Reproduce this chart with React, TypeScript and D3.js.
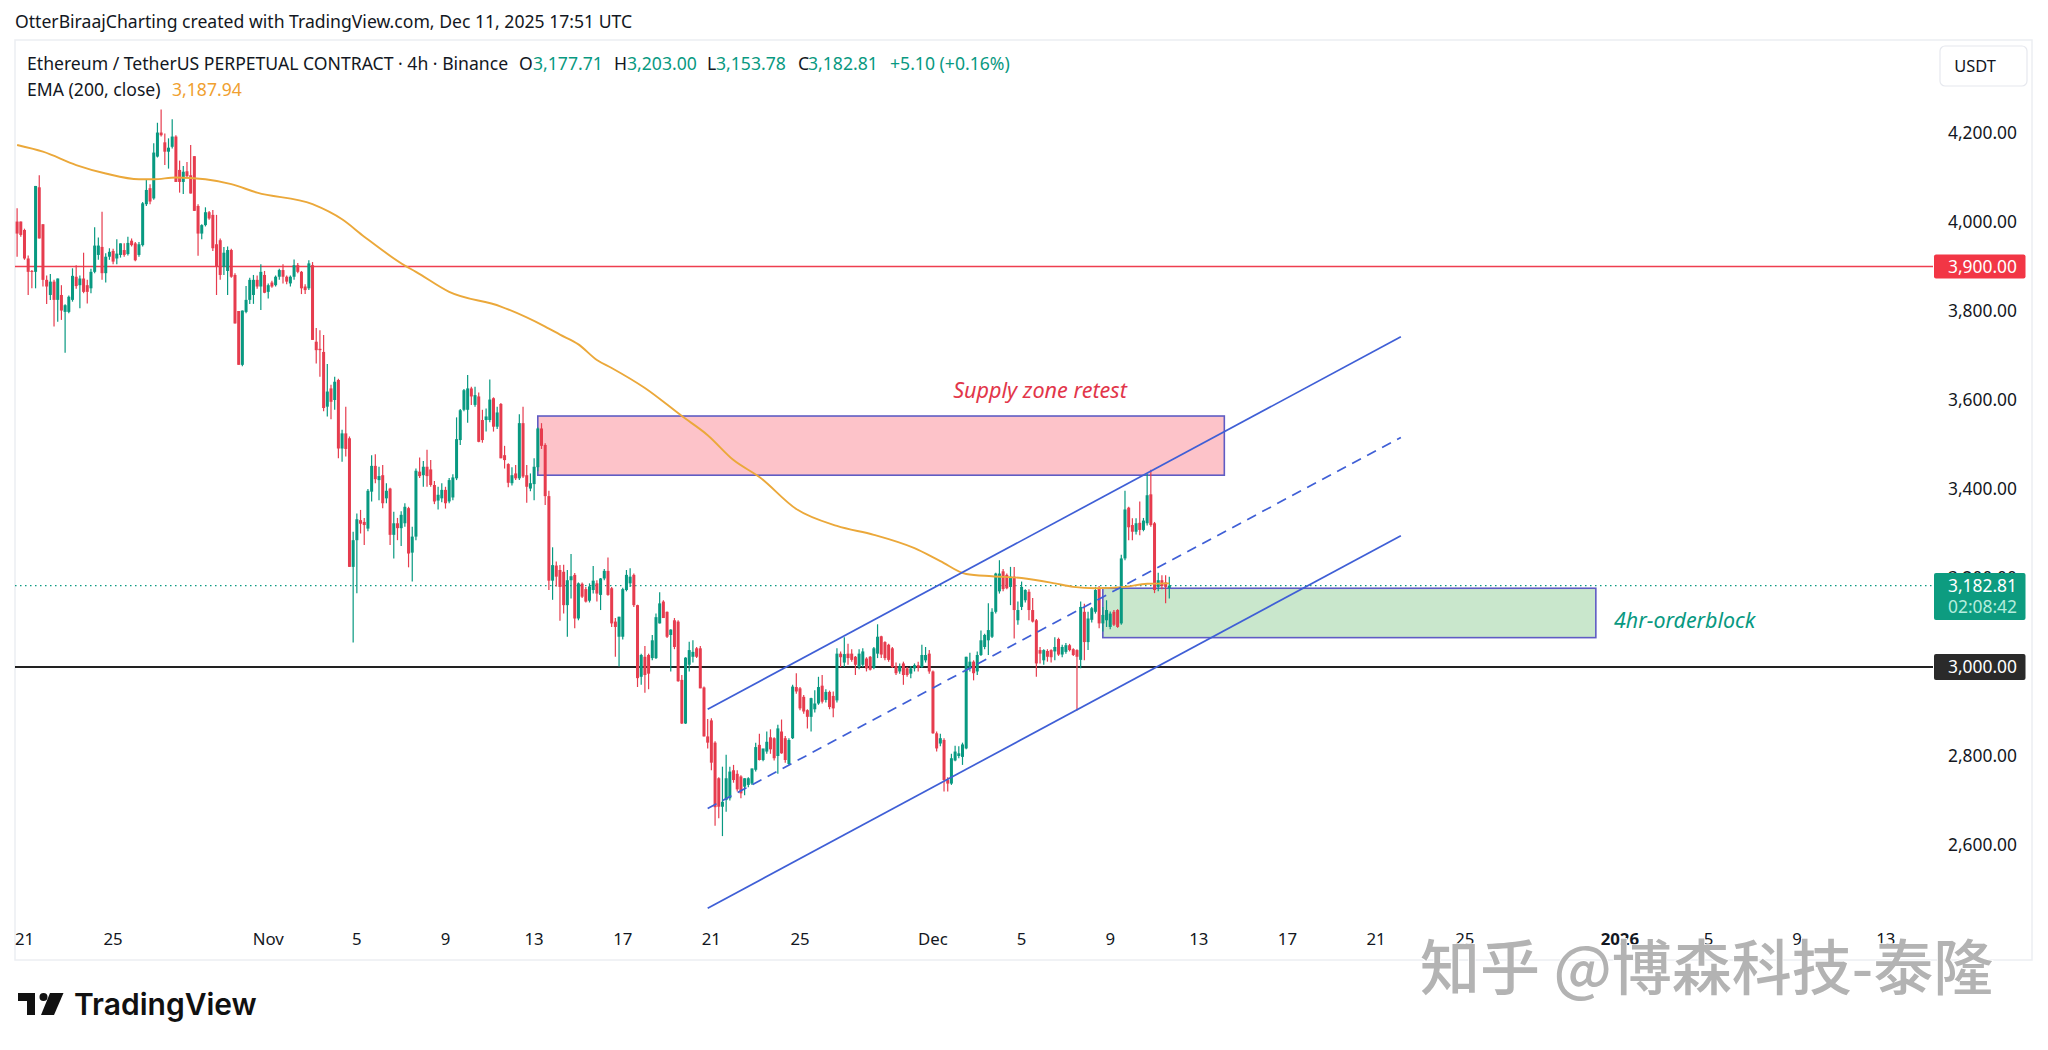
import { scaleLinear, line as d3Line, curveMonotoneX } from "d3"

// 4h bars, first bar is Oct 20 16:00 UTC, last is Dec 11 16:00 UTC
const opens = [
  4001,4001,3982,3918,3890,3888,4078,3995,3870,3836,
  3866,3825,3836,3798,3798,3825,3877,3858,3873,3858,
  3851,3888,3926,3944,3885,3922,3935,3918,3926,3937,
  3928,3958,3952,3926,3948,4040,4076,4053,4147,4201,
  4179,4158,4169,4192,4117,4090,4114,4105,4148,4036,
  3974,3993,4022,4016,3950,3959,3899,3890,3937,3881,
  3800,3679,3798,3825,3836,3870,3855,3881,3843,3864,
  3858,3877,3892,3877,3862,3877,3903,3888,3855,3851,
  3903,3731,3715,3708,3585,3626,3600,3645,3491,3525,
  3514,3225,3285,3330,3326,3311,3394,3452,3420,3431,
  3379,3401,3297,3323,3312,3323,3357,3257,3293,3439,
  3431,3450,3444,3409,3374,3379,3398,3372,3381,3424,
  3510,3578,3578,3626,3589,3608,3555,3555,3555,3604,
  3540,3591,3476,3456,3413,3435,3424,3548,3431,3401,
  3411,3449,3536,3499,3384,3194,3228,3218,3214,3139,
  3195,3207,3109,3187,3175,3149,3173,3188,3162,3199,
  3216,3177,3102,3068,3068,3173,3188,3207,3139,2978,
  3023,3027,3020,3020,3098,3147,3124,3072,3105,3102,
  2971,2873,3005,3023,3042,3042,2954,2844,2880,2830,
  2750,2686,2701,2705,2768,2760,2754,2731,2735,2738,
  2769,2825,2791,2810,2842,2840,2800,2855,2840,2782,
  2840,2955,2952,2933,2903,2888,2905,2918,2958,2926,
  2944,2935,2925,3030,3010,3030,3030,3023,3000,3005,
  3019,3023,2998,3030,3069,3056,3050,3042,3002,2990,
  3008,2997,2985,2997,3004,3000,3015,3030,2990,2851,
  2828,2836,2746,2738,2790,2800,2798,2817,2997,3012,
  2990,3027,3045,3060,3068,3124,3170,3215,3207,3180,
  3203,3105,3135,3150,3169,3128,3105,3038,3015,3036,
  3038,3035,3063,3028,3034,3049,3040,3038,3016,3124,
  3056,3106,3124,3177,3098,3105,3090,3124,3128,3098,
  3244,3358,3319,3304,3324,3308,3323,3388,3323,3180,
  3195,3190,3177.71,
]
const highs = [
  4031,4001,3985,3925,3892,4081,4105,3995,3880,3883,
  3870,3873,3858,3815,3835,3896,3903,3880,3931,3870,
  3895,3988,3965,4023,3930,3941,3940,3961,3952,3952,
  3967,3963,3955,3955,4045,4096,4085,4177,4223,4253,
  4199,4188,4231,4195,4138,4126,4135,4173,4148,4040,
  3995,4033,4025,4027,4016,3963,3944,3945,3940,3885,
  3800,3801,3856,3875,3881,3880,3905,3890,3862,3868,
  3880,3895,3905,3880,3880,3916,3908,3890,3860,3914,
  3910,3762,3757,3746,3681,3634,3652,3648,3533,3585,
  3518,3304,3345,3353,3335,3400,3476,3478,3450,3454,
  3413,3403,3349,3335,3350,3368,3360,3315,3446,3471,
  3463,3488,3465,3418,3405,3413,3405,3425,3433,3561,
  3580,3625,3656,3630,3630,3617,3578,3581,3646,3606,
  3585,3593,3497,3458,3449,3454,3568,3585,3454,3435,
  3469,3538,3548,3503,3396,3269,3237,3229,3230,3218,
  3254,3211,3190,3190,3180,3188,3227,3195,3200,3220,
  3246,3180,3110,3113,3178,3218,3222,3210,3140,3030,
  3047,3030,3072,3120,3168,3150,3125,3085,3110,3105,
  2982,3022,3057,3060,3045,3047,2956,2883,2885,2833,
  2752,2776,2803,2776,2780,2768,2757,2750,2752,2772,
  2830,2850,2815,2855,2860,2842,2870,2882,2845,2840,
  2960,2986,2955,2937,2905,2931,2948,2978,2982,2950,
  2947,2945,3042,3035,3067,3052,3040,3025,3040,3042,
  3022,3025,3045,3096,3070,3058,3052,3045,3010,3008,
  3012,3000,3002,3008,3012,3050,3045,3038,2992,2855,
  2850,2840,2752,2805,2823,2822,2830,3023,3032,3015,
  3035,3082,3075,3143,3132,3212,3240,3220,3210,3225,
  3225,3147,3192,3175,3175,3155,3108,3045,3040,3040,
  3040,3067,3066,3050,3054,3052,3042,3040,3147,3142,
  3124,3135,3180,3182,3135,3150,3125,3128,3130,3252,
  3396,3360,3334,3334,3372,3335,3434,3443,3326,3212,
  3206,3206,3203,
]
const lows = [
  3922,3967,3915,3836,3851,3851,3963,3855,3816,3825,
  3765,3776,3780,3706,3795,3821,3850,3806,3840,3817,
  3840,3885,3915,3870,3864,3915,3905,3905,3920,3922,
  3925,3945,3912,3922,3945,4036,4040,4050,4145,4192,
  4128,4120,4165,4090,4066,4063,4100,4064,4025,3924,
  3961,3990,4005,3935,3836,3870,3881,3836,3875,3772,
  3679,3676,3795,3816,3816,3850,3802,3840,3828,3852,
  3855,3870,3862,3860,3855,3870,3885,3838,3838,3847,
  3735,3682,3652,3575,3563,3557,3578,3469,3461,3473,
  3225,3055,3166,3300,3274,3305,3372,3413,3375,3357,
  3368,3274,3244,3285,3272,3315,3224,3192,3285,3425,
  3405,3405,3405,3366,3354,3370,3356,3368,3375,3420,
  3499,3575,3549,3589,3585,3505,3504,3529,3550,3529,
  3535,3469,3446,3404,3408,3420,3420,3425,3369,3395,
  3375,3440,3490,3364,3173,3151,3181,3104,3120,3068,
  3154,3087,3105,3155,3145,3145,3165,3147,3128,3195,
  3160,3090,3023,3001,3062,3170,3180,3135,2955,2960,
  2942,2950,3015,3018,3098,3110,3065,2990,3040,2967,
  2872,2872,2990,3010,3020,2952,2844,2817,2768,2643,
  2660,2620,2675,2700,2740,2720,2705,2712,2730,2735,
  2765,2790,2788,2805,2805,2790,2760,2805,2785,2780,
  2838,2940,2903,2895,2862,2855,2898,2915,2918,2920,
  2905,2887,2920,3000,3000,3005,3012,2982,2995,3000,
  2990,2992,2995,3020,3020,3015,3012,2998,2982,2985,
  2960,2978,2975,2990,2990,2998,3010,2985,2850,2810,
  2822,2720,2720,2735,2788,2795,2780,2815,2990,2970,
  2982,3025,3040,3027,3065,3120,3165,3170,3175,3139,
  3064,3095,3128,3145,3105,3100,2978,3008,3005,3012,
  3010,3015,3025,3022,3030,3035,3025,2902,2997,3015,
  3038,3100,3120,3087,3080,3090,3085,3092,3088,3095,
  3240,3285,3285,3298,3296,3305,3318,3315,3166,3170,
  3175,3143,3153.78,
]
const closes = [
  3974,3971,3918,3888,3888,4081,3963,3870,3855,3866,
  3825,3873,3801,3813,3832,3879,3856,3873,3843,3843,
  3888,3947,3947,3885,3922,3933,3911,3929,3952,3926,
  3953,3948,3914,3950,4042,4072,4046,4156,4201,4195,
  4158,4167,4192,4090,4090,4113,4103,4064,4025,3974,
  3993,4022,4008,3941,3899,3881,3931,3937,3877,3772,
  3679,3801,3825,3870,3870,3855,3888,3841,3858,3855,
  3877,3892,3877,3866,3877,3903,3888,3851,3847,3907,
  3735,3712,3712,3582,3619,3596,3641,3491,3525,3490,
  3225,3285,3332,3322,3319,3396,3452,3422,3429,3368,
  3396,3297,3323,3312,3342,3360,3255,3293,3441,3429,
  3450,3429,3409,3372,3387,3398,3368,3420,3426,3512,
  3577,3622,3626,3608,3611,3506,3510,3563,3601,3540,
  3572,3469,3465,3414,3431,3424,3548,3428,3405,3413,
  3450,3536,3497,3384,3194,3229,3203,3180,3139,3195,
  3204,3109,3188,3158,3147,3181,3194,3165,3199,3216,
  3162,3098,3090,3113,3175,3207,3203,3139,2975,3027,
  2982,2985,3060,3112,3143,3110,3068,3084,3045,2968,
  2873,3021,3038,3034,3023,2952,2844,2830,2785,2685,
  2686,2697,2750,2765,2746,2725,2716,2750,2750,2772,
  2820,2791,2817,2832,2815,2795,2862,2806,2791,2836,
  2956,2945,2907,2900,2888,2930,2918,2955,2922,2944,
  2910,2907,3030,3022,3029,3020,3016,3005,3030,3035,
  2997,2994,3042,3068,3028,3020,3016,3000,2986,3002,
  2982,2982,2997,3004,2998,3027,3027,2990,2851,2817,
  2840,2746,2738,2795,2810,2806,2826,3023,3012,2986,
  3027,3060,3072,3083,3124,3210,3210,3175,3177,3203,
  3128,3128,3180,3173,3128,3102,3008,3030,3038,3023,
  3022,3045,3028,3045,3049,3038,3027,3023,3135,3056,
  3109,3132,3173,3098,3117,3128,3120,3095,3090,3244,
  3354,3314,3304,3323,3308,3329,3386,3319,3173,3195,
  3182,3180,3182.81,
]

// EMA read at these bars
const emaBars = [0,7,16,24,33,37,43,51,58,65,80,88,94,105,108,117,131,143,147,152,157,161,170,180,187,194,201,211,222,232,243,250,257,264,272,281,286,292,300,306,312]
const emaValues = [4173,4158,4128,4109,4096,4096,4100,4096,4085,4066,4040,4006,3967,3902,3888,3843,3810,3765,3747,3725,3690,3672,3627,3564,3521,3465,3427,3355,3317,3297,3267,3238,3209,3204,3200,3188,3180,3177,3180,3187,3187.94]

const priceTicks = [2600, 2800, 3000, 3200, 3400, 3600, 3800, 4000, 4200]
const timeTickBars = [2, 26, 68, 92, 116, 140, 164, 188, 212, 248, 272, 296, 320, 344, 368, 392, 434, 458, 482, 506]
const timeTickLabels = ["21", "25", "Nov", "5", "9", "13", "17", "21", "25", "Dec", "5", "9", "13", "17", "21", "25", "2026", "5", "9", "13"]

// channel anchors: [bar, price] start and end
const channelStartBar = 187
const channelEndBar = 374.7
const channelUpper = [2905, 3742]
const channelMiddle = [2682, 3516]
const channelLower = [2458, 3295]

const supplyZone = { bar0: 141, bar1: 326.9, top: 3564, bottom: 3431 }
const orderBlock = { bar0: 294, bar1: 427.5, top: 3177, bottom: 3066 }

const lastClose = 3182.81
const redLevel = 3900
const blackLevel = 3000

const GREEN = "#089981"
const RED = "#e63c4e"
const BLUE = "#3f5fd6"
const ZONE_BORDER = "#5f5cc4"
const INK = "#131722"
const FONT = "'Noto Sans', sans-serif"

const fmt = (v: number) => v.toLocaleString("en-US", { minimumFractionDigits: 2, maximumFractionDigits: 2 })

export default function App() {
  const width = 2048
  const height = 1050
  const frame = { left: 15, top: 40, right: 2032, bottom: 960 }
  const plotRight = 1933

  const x = scaleLinear().domain([0, 312]).range([17.1, 1169.3])
  const y = scaleLinear().domain([3000, 4200]).range([667, 133])

  const emaPoints = emaBars.map((bar, i) => [bar, emaValues[i]] as [number, number])
  const emaPath = d3Line<[number, number]>()
    .x((d) => x(d[0]))
    .y((d) => y(d[1]))
    .curve(curveMonotoneX)(emaPoints) ?? ""

  const channels = [
    { key: "upper", values: channelUpper, dash: undefined },
    { key: "middle", values: channelMiddle, dash: "10 7" },
    { key: "lower", values: channelLower, dash: undefined },
  ]

  const zones = [
    { key: "supply", z: supplyZone, fill: "#fdc3c9" },
    { key: "ob", z: orderBlock, fill: "#c9e7cc" },
  ]

  return (
    <svg
      width={width}
      height={height}
      viewBox={`0 0 ${width} ${height}`}
      style={{ position: "absolute", left: 0, top: 0, background: "#fff", fontFamily: FONT }}
    >
      <text x={15} y={28} fontSize={17.6} fill={INK}>
        OtterBiraajCharting created with TradingView.com, Dec 11, 2025 17:51 UTC
      </text>

      <rect x={frame.left} y={frame.top} width={frame.right - frame.left} height={frame.bottom - frame.top} fill="#fff" stroke="#eceef2" strokeWidth={1.5} />

      {/* legend */}
      <g fontSize={17.6}>
        <text x={27} y={70} fill={INK}>Ethereum / TetherUS PERPETUAL CONTRACT · 4h · Binance</text>
        <text x={519} y={70} fill={INK}>O</text>
        <text x={533} y={70} fill={GREEN}>3,177.71</text>
        <text x={614} y={70} fill={INK}>H</text>
        <text x={627} y={70} fill={GREEN}>3,203.00</text>
        <text x={707} y={70} fill={INK}>L</text>
        <text x={716} y={70} fill={GREEN}>3,153.78</text>
        <text x={798} y={70} fill={INK}>C</text>
        <text x={808} y={70} fill={GREEN}>3,182.81</text>
        <text x={890} y={70} fill={GREEN}>+5.10 (+0.16%)</text>
        <text x={27} y={96} fill={INK}>EMA (200, close)</text>
        <text x={172} y={96} fill="#f0a030">3,187.94</text>
      </g>

      {/* zones sit under the candles */}
      {zones.map(({ key, z, fill }) => (
        <rect
          key={key}
          x={x(z.bar0)}
          y={y(z.top)}
          width={x(z.bar1) - x(z.bar0)}
          height={y(z.bottom) - y(z.top)}
          fill={fill}
          stroke={ZONE_BORDER}
          strokeWidth={1.6}
        />
      ))}

      <line x1={frame.left} x2={plotRight} y1={y(redLevel)} y2={y(redLevel)} stroke="#ee3f4f" strokeWidth={1.6} />
      <line x1={frame.left} x2={plotRight} y1={y(blackLevel)} y2={y(blackLevel)} stroke="#222" strokeWidth={1.8} />
      <line x1={frame.left} x2={plotRight} y1={y(lastClose)} y2={y(lastClose)} stroke={GREEN} strokeWidth={1.3} strokeDasharray="1.5 3.5" />

      {/* candles */}
      {closes.map((close, i) => {
        const open = opens[i]
        const color = close >= open ? GREEN : RED
        const bodyTop = y(Math.max(open, close))
        const bodyBottom = y(Math.min(open, close))
        return (
          <g key={i}>
            <line x1={x(i)} x2={x(i)} y1={y(highs[i])} y2={y(lows[i])} stroke={color} strokeWidth={1.2} />
            <rect x={x(i) - 1.5} y={bodyTop} width={3} height={Math.max(1, bodyBottom - bodyTop)} fill={color} />
          </g>
        )
      })}

      <path d={emaPath} fill="none" stroke="#eba83a" strokeWidth={1.9} />

      {channels.map((c) => (
        <line
          key={c.key}
          x1={x(channelStartBar)}
          x2={x(channelEndBar)}
          y1={y(c.values[0])}
          y2={y(c.values[1])}
          stroke={BLUE}
          strokeWidth={1.7}
          strokeDasharray={c.dash}
        />
      ))}

      <text x={1040} y={398} textAnchor="middle" fontSize={21.6} fontStyle="italic" fill="#e2364a">Supply zone retest</text>
      <text x={1614} y={628} fontSize={21.4} fontStyle="italic" fill={GREEN}>4hr-orderblock</text>

      {/* price axis */}
      <g fontSize={17.4} fill={INK} textAnchor="end">
        {priceTicks.map((tick) => (
          <text key={tick} x={2017} y={y(tick)} dy="0.35em">{fmt(tick)}</text>
        ))}
      </g>

      {/* time axis */}
      <g fontSize={16.8} fill={INK} textAnchor="middle">
        {timeTickBars.map((bar, i) => (
          <text key={bar} x={x(bar)} y={945} fontWeight={timeTickLabels[i] === "2026" ? 700 : 400}>{timeTickLabels[i]}</text>
        ))}
      </g>

      {/* price badges */}
      <rect x={1934} y={y(redLevel) - 12} width={91.5} height={24} rx={2} fill="#f23645" />
      <text x={2017} y={y(redLevel)} dy="0.35em" textAnchor="end" fontSize={17.4} fill="#fff">{fmt(redLevel)}</text>
      <rect x={1934} y={573} width={91.5} height={47} rx={2} fill="#0d9c80" />
      <text x={2017} y={586} dy="0.35em" textAnchor="end" fontSize={17.4} fill="#fff">{fmt(lastClose)}</text>
      <text x={2017} y={607} dy="0.35em" textAnchor="end" fontSize={17.4} fill="#b4ecdd">02:08:42</text>
      <rect x={1934} y={654} width={91.5} height={26} rx={2} fill="#2a2a2a" />
      <text x={2017} y={y(blackLevel)} dy="0.35em" textAnchor="end" fontSize={17.4} fill="#fff">{fmt(blackLevel)}</text>

      {/* currency box */}
      <rect x={1940} y={46} width={87} height={40} rx={5} fill="#fff" stroke="#e6e8ee" strokeWidth={1.2} />
      <text x={1975} y={66} dy="0.35em" textAnchor="middle" fontSize={16.4} fill={INK}>USDT</text>

      {/* TradingView logo */}
      <g fill="#111">
        <path d="M18 993 H35 V1015 H27 V1001 H18 Z" />
        <circle cx={43.5} cy={997} r={4} />
        <path d="M50 993 H63.5 L54 1015 H41 Z" />
        <text x={74} y={1015} fontFamily="Inter, sans-serif" fontWeight={600} fontSize={30}>TradingView</text>
      </g>

      {/* site watermark */}
      <text
        x={1420}
        y={990}
        fontFamily="'Noto Sans CJK SC', sans-serif"
        fontWeight={500}
        fontSize={60}
        fill="#b3b3b3"
        stroke="#fff"
        strokeWidth={1.5}
        paintOrder="stroke"
      >
        知乎 @博森科技-泰隆
      </text>
    </svg>
  )
}
